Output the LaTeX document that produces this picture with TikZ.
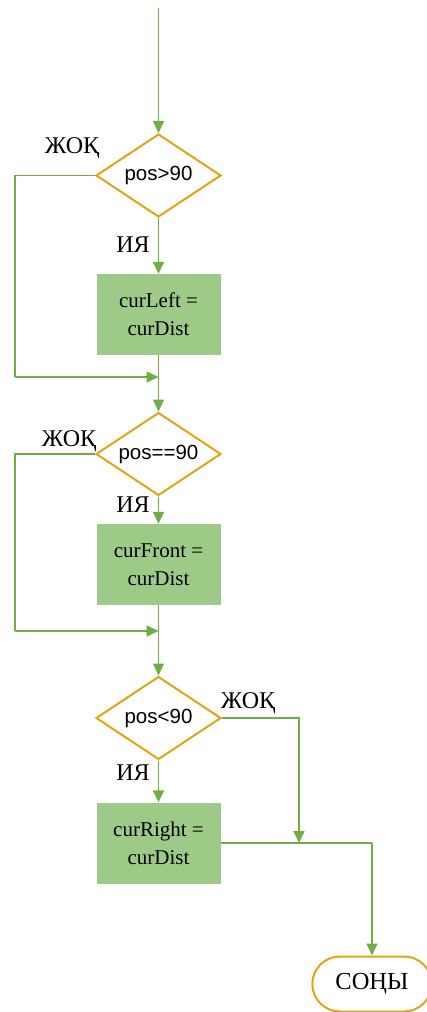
\documentclass[tikz,border=0pt]{standalone}
\usepackage{fontspec}
\setmainfont{Liberation Serif}
\newfontfamily\condfont{Liberation Sans}
\usetikzlibrary{shapes.geometric,shapes.misc,arrows.meta}
\definecolor{flowgreen}{RGB}{112,173,71}
\definecolor{boxgreen}{RGB}{158,202,135}
\definecolor{decgold}{RGB}{228,163,23}
\tikzset{
  flow/.style={draw=flowgreen, line width=1.6pt},
  arr/.style={flow, -{Triangle[length=12pt,width=11pt]}},
  decision/.style={diamond, draw=decgold, line width=2pt, fill=white,
    minimum width=125pt, minimum height=83pt, inner sep=0pt, aspect=1.5,
    font=\condfont\fontsize{20.5}{24}\selectfont},
  process/.style={rectangle, fill=boxgreen, minimum width=124pt, minimum height=81pt,
    inner sep=0pt, align=center, font=\fontsize{21}{28}\selectfont},
  endbox/.style={rounded rectangle, draw=decgold, line width=2pt, fill=white,
    minimum width=126pt, minimum height=55pt, font=\fontsize{24.5}{28}\selectfont},
  lbl/.style={font=\fontsize{24}{28}\selectfont, inner sep=0pt}
}
\begin{document}
\begin{tikzpicture}[x=1pt,y=-1pt]
\useasboundingbox (0,0) rectangle (427,1012);
\clip (0,0) rectangle (427,1012);

% entry
\coordinate (start) at (158.5,8);

% first test
\node[decision] (d1) at (158.5,175.5) {pos>90};
\node[process] (r1) at (158.5,314.5) {curLeft =\\curDist};
\coordinate (m1) at (158.5,377);
\coordinate (l1) at (15,377);

% second test
\node[decision] (d2) at (158.5,454) {pos==90};
\node[process] (r2) at (158.5,564.5) {curFront =\\curDist};
\coordinate (m2) at (158.5,631);
\coordinate (l2) at (15,631);

% third test
\node[decision] (d3) at (158.5,718) {pos<90};
\node[process] (r3) at (158.5,843) {curRight =\\curDist};
\coordinate (j3) at (299,843);
\coordinate (e3) at (372,843);

% terminal
\node[endbox] (t) at (372,984) {СОҢЫ};

% connectors
\draw[arr] (start) -- (d1.north);
\draw[arr] (d1.south) -- (r1.north);
\draw[flow] (d1.west) -| (l1);
\draw[arr] (l1) -- (m1);
\draw[flow] (r1.south) -- (m1);
\draw[arr] (m1) -- (d2.north);

\draw[arr] (d2.south) -- (r2.north);
\draw[flow] (d2.west) -| (l2);
\draw[arr] (l2) -- (m2);
\draw[flow] (r2.south) -- (m2);
\draw[arr] (m2) -- (d3.north);

\draw[arr] (d3.south) -- (r3.north);
\draw[arr] (d3.east) -| (j3);
\draw[flow] (r3.east) -- (e3);
\draw[arr] (e3) -- (t.north);

% branch labels
\node[lbl] (n1) at (72,148) {ЖОҚ};
\node[lbl] (y1) at (133,245) {ИЯ};
\node[lbl] (n2) at (69,441) {ЖОҚ};
\node[lbl] (y2) at (133,505) {ИЯ};
\node[lbl] (n3) at (248,703) {ЖОҚ};
\node[lbl] (y3) at (133,773) {ИЯ};
\end{tikzpicture}
\end{document}
